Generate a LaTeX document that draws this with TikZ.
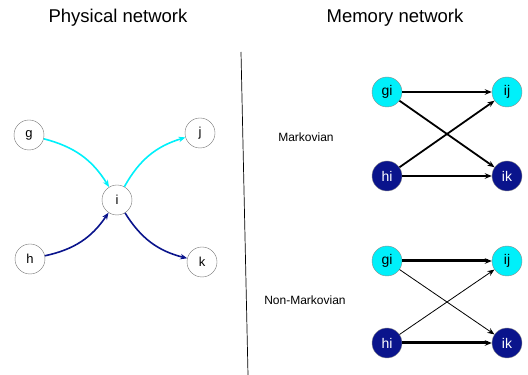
\documentclass[tikz,border=0pt]{standalone}
\usepackage{fontspec}
\setmainfont{Liberation Sans}
\usetikzlibrary{arrows.meta,positioning}
\definecolor{navy}{RGB}{10,20,140}
\definecolor{aqua}{RGB}{0,240,250}

\begin{document}
\begin{tikzpicture}[x=1pt,y=1pt,on grid,>={Stealth[length=7pt,width=5.5pt]}]
       \tikzstyle{phys}=[circle,draw=black!55,thin,minimum size=30pt,inner sep=0pt,font=\fontsize{13}{15}\selectfont]
       \tikzstyle{mem}=[circle,draw=black!45,thin,minimum size=30pt,inner sep=0pt,font=\fontsize{14}{16}\selectfont]
       \tikzstyle{gnode}=[mem,fill=aqua,text=black]
       \tikzstyle{hnode}=[mem,fill=navy,text=white]
       \tikzstyle{title}=[font=\fontsize{18.5}{21}\selectfont]
       \tikzstyle{caption}=[font=\fontsize{12}{14}\selectfont]
       \useasboundingbox (0,0) rectangle (528,375);

       % physical network
       \node[title] (t_phys) at (118,357) {Physical network};
       \node[phys] (i) at (117,175) {i};
       \node[phys] (g) at (29,240) {g};
       \node[phys] (j) at (200,242) {j};
       \node[phys] (h) at (30,116) {h};
       \node[phys] (k) at (202,113) {k};

       \path[->,line width=1.6pt]
       (g) edge [aqua,bend left=22] (i)
       (i) edge [aqua,bend left=22] (j)
       (h) edge [navy,bend right=22] (i)
       (i) edge [navy,bend right=22] (k);

       % separator
       \coordinate (sep_top) at (241,323);
       \coordinate (sep_bot) at (248,0);
       \draw[line width=0.7pt] (sep_top) -- (sep_bot);

       % memory network
       \node[title] (t_mem) at (395,357) {Memory network};

       \node[gnode] (gi) at (387,283) {gi};
       \node[gnode] (ij) [right=120pt of gi] {ij};
       \node[hnode] (hi) [below=84pt of gi] {hi};
       \node[hnode] (ik) [right=120pt of hi] {ik};
       \node[caption] (markov) at (306,238) {Markovian};

       \path[->,line width=1.8pt]
       (gi) edge (ij)
            edge (ik)
       (hi) edge (ij)
            edge (ik);

       \node[gnode] (gi2) [below=169pt of gi] {gi};
       \node[gnode] (ij2) [right=120pt of gi2] {ij};
       \node[hnode] (hi2) [below=82pt of gi2] {hi};
       \node[hnode] (ik2) [right=120pt of hi2] {ik};
       \node[caption] (nonmarkov) at (305,75) {Non-Markovian};

       \path[->]
       (gi2) edge [line width=3pt] (ij2)
             edge [line width=0.8pt] (ik2)
       (hi2) edge [line width=0.8pt] (ij2)
             edge [line width=3pt] (ik2);
     \end{tikzpicture}
\end{document}
